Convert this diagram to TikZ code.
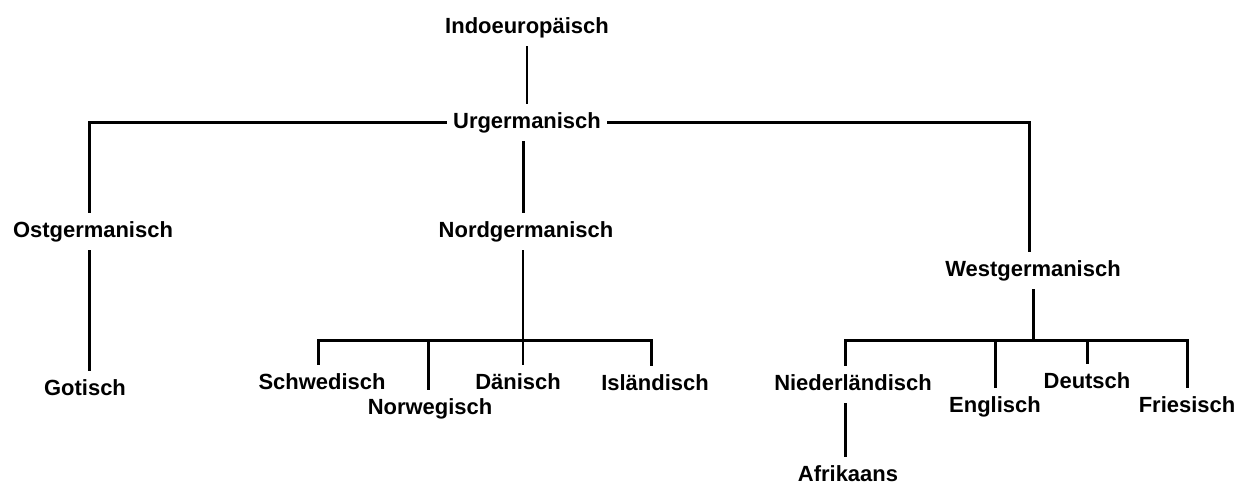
\documentclass[tikz,border=0pt]{standalone}
\usepackage{fontspec}
\setmainfont{Liberation Sans}
\usetikzlibrary{calc}

\tikzset{
    lang/.style={anchor=base, font=\fontsize{12.5}{14}\selectfont\bfseries,
        inner xsep=3.5pt, inner ysep=5pt, text height=8.5pt, text depth=2.3pt},
    branch/.style={line width=1.7pt}
}

\begin{document}
\begin{tikzpicture}[x=0.02cm, y=-0.02cm]
    \useasboundingbox (0,0) rectangle (1251,485);

    % languages
    \node [lang] (indo) at (527,33) {Indoeuropäisch};
    \node [lang] (urg) at (527,128) {Urgermanisch};
    \node [lang] (ost) at (93,237) {Ostgermanisch};
    \node [lang] (nord) at (526,237) {Nordgermanisch};
    \node [lang] (west) at (1033,276) {Westgermanisch};
    \node [lang] (got) at (85,395) {Gotisch};
    \node [lang] (schw) at (322,389) {Schwedisch};
    \node [lang] (norw) at (430,414) {Norwegisch};
    \node [lang] (dan) at (518,389) {Dänisch};
    \node [lang] (isl) at (655,390) {Isländisch};
    \node [lang] (nied) at (853,390) {Niederländisch};
    \node [lang] (afr) at (848,481) {Afrikaans};
    \node [lang] (engl) at (995,412) {Englisch};
    \node [lang] (deut) at (1087,388) {Deutsch};
    \node [lang] (fries) at (1187,412) {Friesisch};

    \coordinate (nbar) at (523,340);
    \coordinate (wbar) at (1033,340);

    % tree
    \draw [branch] (indo) -- (urg);
    \draw [branch] (urg.west) -| ([xshift=-2pt]ost.north);
    \draw [branch] (urg.east) -| ([xshift=-2pt]west.north);
    \draw [branch] ([xshift=-2pt]urg.south) -- ([xshift=-2pt]urg.south |- nord.north);
    \draw [branch] ([xshift=-2pt]ost.south) -- ([xshift=-2pt]ost.south |- got.north);

    \draw [branch] (nbar |- nord.south) -- (nbar |- dan.north);
    \draw [branch] ([xshift=-2pt]schw.north) |- (nbar) -| ([xshift=-2pt]isl.north);
    \draw [branch] ([xshift=-1pt]norw.north) -- ([xshift=-1pt]norw.north |- nbar);

    \draw [branch] (west.south) -- (wbar);
    \draw [branch] ([xshift=-4.5pt]nied.north) |- (wbar) -| (fries.north);
    \draw [branch] (engl.north) -- (engl.north |- wbar);
    \draw [branch] (deut.north) -- (deut.north |- wbar);
    \draw [branch] ([xshift=-4.5pt]nied.south) -- ([xshift=-4.5pt]nied.south |- afr.north);

\end{tikzpicture}
\end{document}
